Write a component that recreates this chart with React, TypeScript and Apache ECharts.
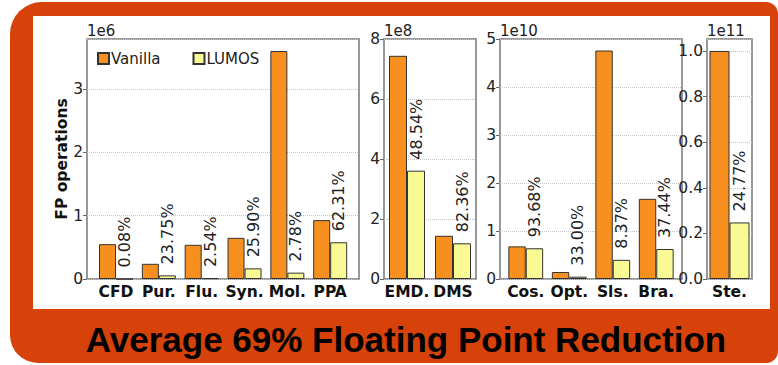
import React, { useEffect, useRef } from 'react';
import * as echarts from 'echarts';

// ---- data ----
const seriesNames = ['Vanilla', 'LUMOS'];

const cats1 = ['CFD', 'Pur.', 'Flu.', 'Syn.', 'Mol.', 'PPA'];
const vanilla1 = [0.55, 0.24, 0.54, 0.65, 3.6, 0.93]; // x1e6
const lumos1 = [0.0004, 0.057, 0.014, 0.168, 0.1, 0.58];
const pct1 = [0.08, 23.75, 2.54, 25.9, 2.78, 62.31];

const cats2 = ['EMD.', 'DMS'];
const vanilla2 = [7.44, 1.44]; // x1e8
const lumos2 = [3.61, 1.19];
const pct2 = [48.54, 82.36];

const cats3 = ['Cos.', 'Opt.', 'Sls.', 'Bra.'];
const vanilla3 = [0.68, 0.146, 4.76, 1.67]; // x1e10
const lumos3 = [0.64, 0.048, 0.4, 0.625];
const pct3 = [93.68, 33.0, 8.37, 37.44];

const cats4 = ['Ste.'];
const vanilla4 = [1.0]; // x1e11
const lumos4 = [0.248];
const pct4 = [24.77];

const exponents = ['1e6', '1e8', '1e10', '1e11'];
const yMax = [3.79, 8, 5, 1.0526];
const yInterval = [1, 2, 1, 0.2];
const yDecimals = [0, 0, 0, 1];

const yTitle = 'FP operations';
const title = 'Average 69% Floating Point Reduction';

// ---- layout ----
const panels = [
  { cats: cats1, vanilla: vanilla1, lumos: lumos1, pct: pct1, frame: [87, 272], plot: [94.6, 257], barWidth: 17, hideMax: true },
  { cats: cats2, vanilla: vanilla2, lumos: lumos2, pct: pct2, frame: [384, 92], plot: [384, 92], barWidth: 18, hideMax: false },
  { cats: cats3, vanilla: vanilla3, lumos: lumos3, pct: pct3, frame: [500, 182], plot: [504, 174], barWidth: 17.4, hideMax: false },
  { cats: cats4, vanilla: vanilla4, lumos: lumos4, pct: pct4, frame: [707, 45], plot: [707, 45], barWidth: 20, hideMax: true },
];

const TOP = 39;
const HEIGHT = 240;
const FONT = '"DejaVu Sans", sans-serif';
const ORANGE = '#F7901E';
const YELLOW = '#FAFA94';
const EDGE = '#333';

export default function App() {
  const ref = useRef<HTMLDivElement>(null);

  useEffect(() => {
    if (!ref.current) return;
    const chart = echarts.init(ref.current, null, { renderer: 'svg' });

    const grid: any[] = [];
    const xAxis: any[] = [];
    const yAxis: any[] = [];
    const series: any[] = [];

    panels.forEach((p, i) => {
      const fi = 2 * i;
      const pi = 2 * i + 1;
      grid.push({
        left: p.frame[0], width: p.frame[1], top: TOP, height: HEIGHT,
        show: true, borderColor: '#777', borderWidth: 1.5, backgroundColor: 'transparent',
      });
      grid.push({ left: p.plot[0], width: p.plot[1], top: TOP, height: HEIGHT });

      xAxis.push({ gridIndex: fi, type: 'category', data: [''], show: false });
      yAxis.push({
        gridIndex: fi, type: 'value', min: 0, max: yMax[i], interval: yInterval[i],
        name: exponents[i], nameLocation: 'end', nameGap: 1,
        nameTextStyle: { align: 'left', verticalAlign: 'bottom', fontFamily: FONT, fontSize: 15, color: '#222' },
        axisLine: { show: false },
        axisTick: { show: true, length: 4, lineStyle: { color: '#666' } },
        axisLabel: {
          fontFamily: FONT, fontSize: 15.5, color: '#222', margin: 4,
          showMaxLabel: !p.hideMax,
          formatter: (v: number) => v.toFixed(yDecimals[i]),
        },
        splitLine: { show: true, lineStyle: { color: '#c4c4c4', type: 'dotted', width: 1 } },
      });

      xAxis.push({
        gridIndex: pi, type: 'category', data: p.cats,
        axisLine: { show: false }, axisTick: { show: false },
        axisLabel: { fontFamily: FONT, fontSize: 15.5, fontWeight: 'bold', color: '#111', margin: 5, interval: 0 },
      });
      yAxis.push({ gridIndex: pi, type: 'value', min: 0, max: yMax[i], show: false });

      series.push({
        name: seriesNames[0], type: 'bar', xAxisIndex: pi, yAxisIndex: pi,
        data: p.vanilla, barWidth: p.barWidth, barGap: '0%',
        itemStyle: { color: ORANGE, borderColor: EDGE, borderWidth: 1 },
      });
      series.push({
        name: seriesNames[1], type: 'bar', xAxisIndex: pi, yAxisIndex: pi,
        data: p.lumos, barWidth: p.barWidth, barGap: '0%',
        itemStyle: { color: YELLOW, borderColor: EDGE, borderWidth: 1 },
        label: {
          show: true, position: 'top', rotate: 90, align: 'left', verticalAlign: 'middle',
          distance: 11, fontFamily: FONT, fontSize: 16, color: '#222',
          formatter: (d: any) => p.pct[d.dataIndex].toFixed(2) + '%',
        },
      });
    });

    chart.setOption({
      animation: false,
      grid, xAxis, yAxis, series,
      legend: {
        data: seriesNames, left: 92, top: 46, itemWidth: 11, itemHeight: 11, itemGap: 32,
        icon: 'rect',
        textStyle: { fontFamily: FONT, fontSize: 15, color: '#222', padding: [0, 0, 0, -3] },
      },
      graphic: [
        {
          type: 'text', x: 62, y: 159, rotation: Math.PI / 2,
          style: { text: yTitle, align: 'center', verticalAlign: 'middle', font: 'bold 15.5px "DejaVu Sans"', fill: '#111' },
        },
        {
          type: 'text', x: 406, y: 339,
          style: { text: title, align: 'center', verticalAlign: 'middle', font: 'bold 35px "Liberation Sans", Arial', fill: '#000' },
        },
      ],
    });
    return () => chart.dispose();
  }, []);

  return (
    <div style={{ position: 'fixed', left: 0, top: 0, width: 778, height: 365, background: '#fff' }}>
      <div style={{ position: 'absolute', left: 10, top: 2, width: 768, height: 361, background: '#D6420A', borderRadius: '32px 12px 12px 28px' }} />
      <div style={{ position: 'absolute', left: 33, top: 16, width: 737, height: 293, background: '#fff' }} />
      <div ref={ref} style={{ position: 'absolute', left: 0, top: 0, width: 778, height: 365 }} />
    </div>
  );
}
